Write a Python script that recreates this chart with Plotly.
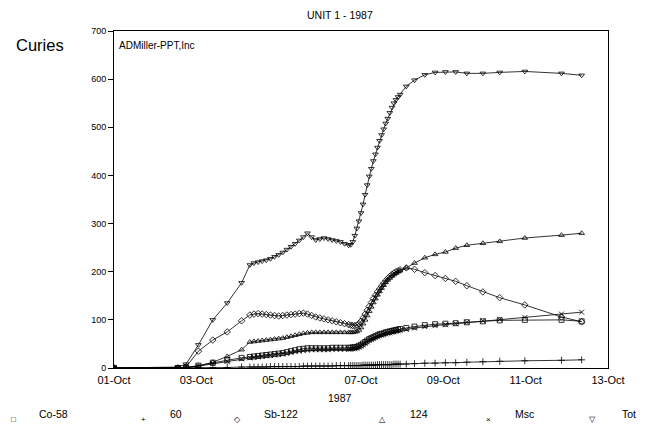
import pandas as pd
import plotly.graph_objects as go

# time in days after 01-Oct-1987 00:00
days = [0, 1.55, 1.75, 2.05, 2.4, 2.75, 3.1, 3.3,
        3.4, 3.5, 3.6, 3.7, 3.8, 3.9, 4.0, 4.1, 4.2, 4.3, 4.4, 4.5, 4.6, 4.7,
        4.8, 4.9, 5.0, 5.1, 5.2, 5.3, 5.4, 5.5, 5.6, 5.7,
        5.75, 5.8, 5.85, 5.9, 5.95, 6.0, 6.05, 6.1, 6.15, 6.2, 6.25, 6.3, 6.35,
        6.4, 6.45, 6.5, 6.55, 6.6, 6.65, 6.7, 6.75, 6.8, 6.85, 6.9, 6.95,
        7.1, 7.3, 7.55, 7.8, 8.05, 8.3, 8.57, 8.96, 9.37, 9.98, 10.87, 11.36]

tot = [0, 2, 8, 48, 100, 135, 177, 214,
       218, 220, 222, 224, 227, 231, 235, 240, 246, 252, 258, 265, 272, 280,
       272, 266, 268, 270, 268, 266, 264, 262, 258, 255,
       256, 262, 275, 290, 305, 322, 340, 360, 380, 398, 414, 430, 444,
       458, 472, 484, 496, 508, 518, 530, 541, 550, 557, 563, 568,
       585, 598, 609, 614, 615, 615, 612, 612, 614, 616, 612, 608]

sb122 = [0, 0, 2, 35, 58, 75, 98, 110,
         112, 113, 112, 111, 110, 109, 108, 109, 110, 111, 112, 113, 114, 112,
         109, 106, 104, 102, 100, 98, 96, 94, 92, 90,
         89, 88, 88, 89, 92, 97, 104, 112, 120, 128, 136, 144, 151,
         158, 164, 170, 176, 181, 186, 190, 194, 197, 200, 202, 204,
         208, 205, 198, 192, 186, 180, 171, 158, 146, 131, 106, 96]

sb124 = [0, 0, 1, 4, 12, 24, 38, 54,
         55, 56, 57, 58, 59, 60, 61, 62, 64, 66, 68, 70, 72, 73,
         74, 74, 74, 74, 74, 74, 74, 74, 74, 74,
         74, 74, 75, 76, 79, 84, 92, 100, 109, 118, 127, 136, 144,
         152, 159, 166, 172, 178, 183, 187, 191, 194, 197, 200, 202,
         208, 218, 229, 236, 241, 249, 255, 259, 263, 270, 276, 280]

co58 = [0, 0, 1, 5, 11, 16, 21, 23,
        24, 25, 26, 27, 28, 29, 30, 31, 33, 35, 37, 39, 40, 41,
        41, 41, 41, 41, 41, 42, 42, 42, 42, 42,
        42, 43, 43, 44, 46, 48, 51, 54, 57, 60, 62, 64, 66,
        68, 70, 71, 72, 74, 75, 76, 77, 78, 79, 80, 81,
        83, 86, 89, 91, 92, 93, 95, 97, 99, 100, 100, 97]

msc = [0, 0, 1, 4, 9, 14, 19, 21,
       22, 23, 24, 25, 26, 27, 28, 29, 30, 32, 34, 35, 36, 37,
       38, 38, 38, 38, 38, 39, 39, 39, 39, 39,
       39, 40, 40, 41, 43, 45, 48, 51, 54, 57, 59, 61, 63,
       65, 67, 68, 70, 71, 72, 73, 74, 75, 76, 77, 78,
       80, 83, 86, 88, 90, 92, 95, 98, 101, 105, 112, 116]

co60 = [0, 0, 0, 0, 1, 1, 2, 2,
        2, 2, 2, 2, 3, 3, 3, 3, 3, 3, 3, 3, 4, 4,
        4, 4, 4, 4, 4, 4, 5, 5, 5, 5,
        5, 5, 5, 5, 5, 5, 6, 6, 6, 6, 6, 6, 6,
        7, 7, 7, 7, 7, 7, 7, 7, 8, 8, 8, 8,
        8, 9, 10, 10, 11, 11, 12, 13, 14, 15, 16, 17]

series_names = ["Co-58", "60", "Sb-122", "124", "Msc", "Tot"]
series_vals = [co58, co60, sb122, sb124, msc, tot]
series_symbols = ["square-open", "cross-thin-open", "diamond-open",
                  "triangle-up-open", "x-thin-open", "triangle-down-open"]
legend_glyphs = ["\u25a1", "+", "\u25c7", "\u25b3", "\u00d7", "\u25bd"]

times = pd.Timestamp("1987-10-01") + pd.to_timedelta(days, unit="D")

fig = go.Figure()
for name, vals, sym in zip(series_names, series_vals, series_symbols):
    fig.add_trace(go.Scatter(
        x=times, y=vals, name=name, mode="lines+markers",
        line=dict(color="black", width=0.8),
        marker=dict(symbol=sym, size=5, color="black",
                    line=dict(color="black", width=0.8)),
        showlegend=False))

# page body has an 8px margin, so the figure is 8px smaller and
# its margins are 8px less than the target pixel positions
font = "Liberation Sans, Arial, sans-serif"
fig.update_layout(
    width=639, height=416,
    margin=dict(l=106, r=39, t=23, b=56),
    paper_bgcolor="white", plot_bgcolor="white",
    font=dict(family=font, color="black"),
    xaxis=dict(type="date", range=["1987-10-01", "1987-10-13"],
               tickvals=pd.date_range("1987-10-01", "1987-10-13", freq="2D"),
               tickformat="%d-%b", tickfont=dict(size=11),
               showgrid=False, zeroline=False, showline=True, linecolor="black",
               linewidth=1, mirror=True, ticks="", ticklabelstandoff=2),
    yaxis=dict(range=[0, 700], dtick=100, tickfont=dict(size=9),
               showgrid=False, zeroline=False, showline=True, linecolor="black",
               linewidth=1, mirror=True, ticks="outside", ticklen=5,
               tickcolor="black", tickwidth=1),
)

# helpers: target screen pixels -> paper coords (plot area 114..608, 31..368)
def px(x):
    return (x - 114) / 494

def py(y):
    return (368 - y) / 337

fig.add_annotation(text="UNIT 1 - 1987", xref="paper", yref="paper",
                   x=px(340), y=py(15), showarrow=False,
                   font=dict(size=10.5), xanchor="center", yanchor="middle")
fig.add_annotation(text="Curies", xref="paper", yref="paper",
                   x=px(14), y=py(45), showarrow=False,
                   font=dict(size=16.5), xanchor="left", yanchor="middle")
fig.add_annotation(text="ADMiller-PPT,Inc", xref="paper", yref="paper",
                   x=px(117), y=py(46), showarrow=False,
                   font=dict(size=10), xanchor="left", yanchor="middle")
fig.add_annotation(text="1987", xref="paper", yref="paper",
                   x=px(340), y=py(398), showarrow=False,
                   font=dict(size=10.5), xanchor="center", yanchor="middle")

glyph_x = [13, 143, 237, 382, 488, 592]
label_x = [37, 168, 262, 408, 513, 620]
for g, gx, name, lx in zip(legend_glyphs, glyph_x, series_names, label_x):
    fig.add_annotation(text=g, xref="paper", yref="paper",
                       x=px(gx), y=py(419), showarrow=False,
                       font=dict(size=8), xanchor="center", yanchor="middle")
    fig.add_annotation(text=name, xref="paper", yref="paper",
                       x=px(lx), y=py(414), showarrow=False,
                       font=dict(size=10.5), xanchor="left", yanchor="middle")

fig.write_html("out.html")
